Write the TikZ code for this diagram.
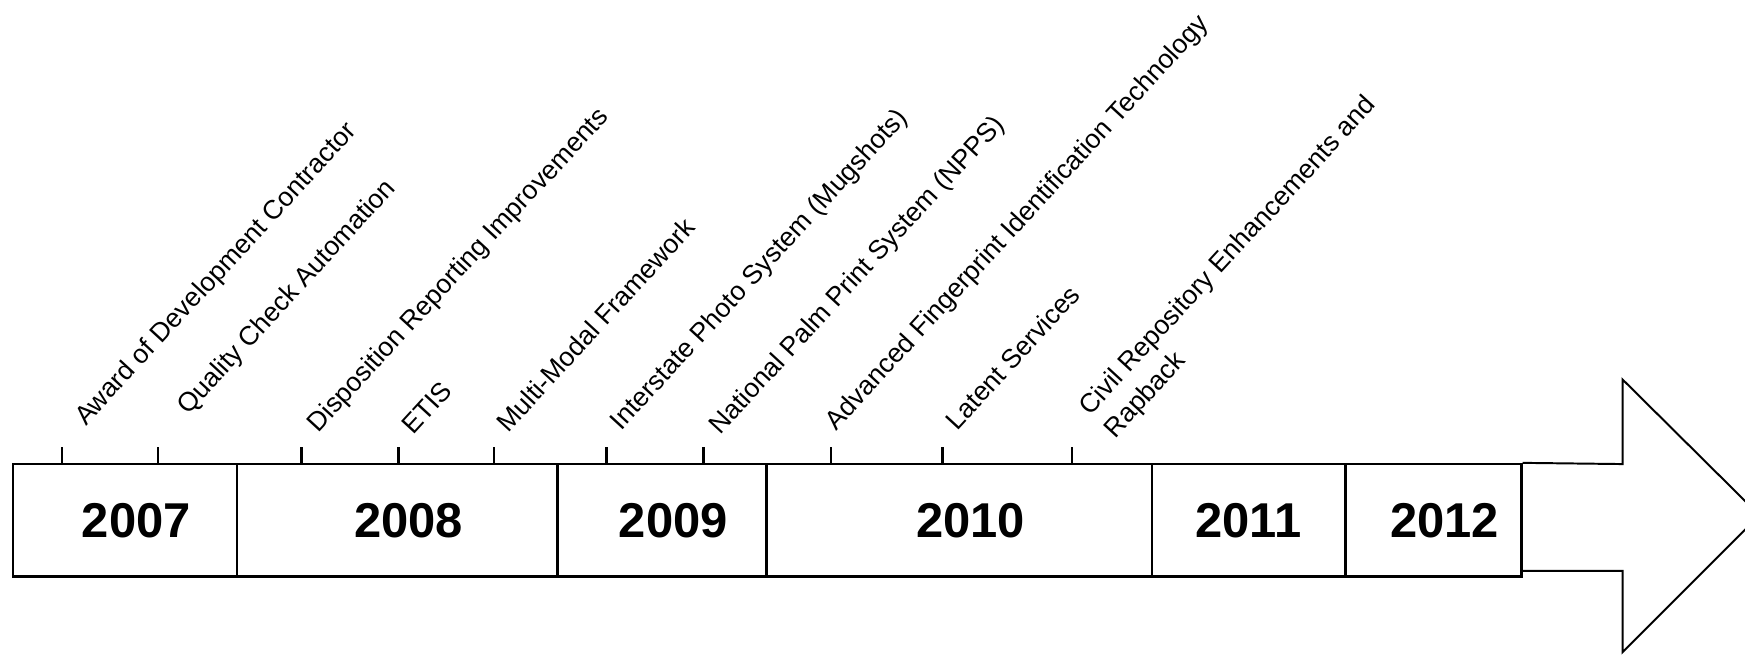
\documentclass[tikz,border=0pt]{standalone}
\usepackage{fontspec}
\setmainfont{Liberation Sans}
\begin{document}
\begin{tikzpicture}[
    x=0.01cm, y=-0.01cm,
    yearbox/.style={rectangle, draw, line width=0.6pt, minimum height=1.01cm, inner sep=0pt, font=\fontsize{12.5}{15}\selectfont\bfseries},
    offyear/.style={execute at begin node={\hspace*{0.2cm}}},
    milestone/.style={rotate=47.4, anchor=base west, inner sep=0pt, font=\fontsize{6.8}{8.6}\selectfont},
    tickmark/.style={line width=0.6pt},
    arrowline/.style={line width=0.5pt, line join=miter},
]
\clip (0,0) rectangle (1568,588);
% year cells
\node[yearbox, offyear, minimum width=2.01cm] (y2007) at (112.5,467.5) {2007};
\node[yearbox, offyear, minimum width=2.88cm] (y2008) at (357,467.5) {2008};
\node[yearbox, offyear, minimum width=1.88cm] (y2009) at (595,467.5) {2009};
\node[yearbox, offyear, minimum width=3.46cm] (y2010) at (862,467.5) {2010};
\node[yearbox, minimum width=1.74cm] (y2011) at (1122,467.5) {2011};
\node[yearbox, offyear, minimum width=1.58cm] (y2012) at (1288,467.5) {2012};
% big arrow
\draw[arrowline] (y2012.north east) -- (1458,417) -- (1458,341) -- (1581,463)
    -- (1458,586) -- (1458,513) -- (1367,513);
% ticks
\draw[tickmark] (56,417) -- (56,402);
\draw[tickmark] (142,417) -- (142,402);
\draw[tickmark] (271,417) -- (271,402);
\draw[tickmark] (358,417) -- (358,402);
\draw[tickmark] (444,417) -- (444,402);
\draw[tickmark] (545,417) -- (545,402);
\draw[tickmark] (632,417) -- (632,402);
\draw[tickmark] (747,417) -- (747,402);
\draw[tickmark] (847,417) -- (847,402);
\draw[tickmark] (963,417) -- (963,402);
% milestones
\node[milestone] (award) at (77,384) {Award of Development Contractor};
\node[milestone] (qca) at (169,374) {Quality Check Automation};
\node[milestone] (dispo) at (286,390) {Disposition Reporting Improvements};
\node[milestone] (etis) at (371,392) {ETIS};
\node[milestone] (mmf) at (456,390) {Multi-Modal Framework};
\node[milestone] (ips) at (558,388) {Interstate Photo System (Mugshots)};
\node[milestone] (npps) at (647,392) {National Palm Print System (NPPS)};
\node[milestone] (afit) at (751,388) {Advanced Fingerprint Identification Technology};
\node[milestone] (latent) at (860,388) {Latent Services};
\node[milestone, align=left] (civil) at (1002,395) {Civil Repository Enhancements and\\Rapback};
\end{tikzpicture}
\end{document}
